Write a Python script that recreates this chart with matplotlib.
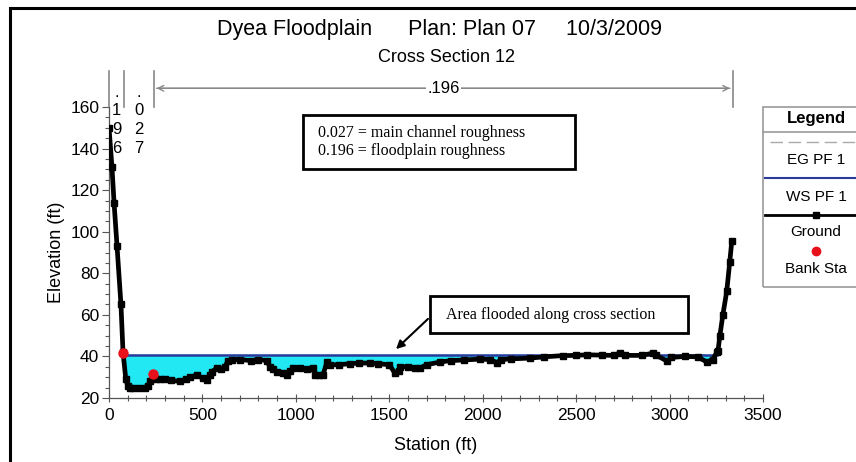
import matplotlib.pyplot as plt
from matplotlib.lines import Line2D
from matplotlib.patches import Rectangle, FancyArrowPatch
from matplotlib.ticker import MultipleLocator

plt.rcParams["font.family"] = ["Liberation Sans", "DejaVu Sans"]

# Ground profile, station (ft) / elevation (ft)
station = [0, 16, 27, 43, 64, 75, 90, 100, 112, 130, 160, 190, 209, 219, 237,
           250, 273, 300, 330, 380, 410, 433, 470, 503, 524, 540, 550, 577,
           600, 620, 637, 660, 700, 760, 800, 845, 861, 880, 898, 930, 952,
           970, 984, 1020, 1060, 1091, 1102, 1125, 1145, 1166, 1182, 1230,
           1289, 1340, 1396, 1440, 1500, 1530, 1550, 1557, 1600, 1640, 1664,
           1700, 1771, 1830, 1900, 1985, 2040, 2076, 2100, 2150, 2253, 2330,
           2429, 2500, 2560, 2640, 2700, 2734, 2760, 2850, 2911, 2930, 2986,
           3010, 3080, 3150, 3200, 3230, 3253, 3259, 3269, 3285, 3306, 3322,
           3333]
ground = [150, 131, 114, 93, 65, 42, 29, 26, 25, 25, 25, 25, 26, 28, 30.5,
          29, 29, 29, 28.5, 28, 29, 30, 31, 29.5, 28.5, 31, 32.5, 34.5,
          34, 35, 38, 38.5, 38.5, 38, 38.5, 38, 35, 34, 32.5, 32, 31,
          33, 34.5, 34.5, 34, 34.5, 31, 31, 31, 37.3, 36, 36,
          36.5, 36.8, 36.8, 36.5, 36, 32, 33, 35, 35, 34.5, 34.4,
          36, 37.3, 38, 38.3, 38.7, 38.5, 37, 38.5, 38.8, 39.2, 39.8,
          40.4, 40.5, 40.8, 40.6, 40.5, 41.6, 40.5, 40.5, 41.6, 40.5, 37.8,
          39.5, 40, 39.8, 37.3, 38.5, 42, 42.6, 49.8, 59.9, 71.4, 85.4,
          95.5]

# Water surface, bank stations and Manning's n breaks
ws_elev = 40.8
ws_range = [75, 3256]
bank_sta = [75, 237]
bank_elev = [41.8, 31.5]
n_breaks = [0, 80, 240, 3338]
n_values = [".196", ".027", ".196"]

W, H = 856, 462


def fx(px):
    return px / W


def fy(py):
    return 1 - py / H


fig = plt.figure(figsize=(W / 100, H / 100), dpi=100)
ax = fig.add_axes([fx(109), fy(398), fx(763 - 109), (398 - 107) / H])

# flooded area between ground and water surface
ws_x = [s for s in station if ws_range[0] <= s <= ws_range[1]]
ws_g = [g for s, g in zip(station, ground) if ws_range[0] <= s <= ws_range[1]]
ax.fill_between(ws_x, ws_g, ws_elev, where=[g < ws_elev for g in ws_g],
                interpolate=True, color="#22e8f4", lw=0, zorder=1)
ax.plot(ws_range, [ws_elev, ws_elev], color="#2a3a9c", lw=1.8, zorder=2)
ax.plot(station, ground, color="black", lw=3.4, marker="s", ms=4.6,
        zorder=3)
ax.plot(bank_sta, bank_elev, "o", color="#e8101a", ms=6.5, zorder=4)

ax.set_xlim(0, 3500)
ax.set_ylim(20, 160)
ax.xaxis.set_major_locator(MultipleLocator(500))
ax.xaxis.set_minor_locator(MultipleLocator(100))
ax.yaxis.set_major_locator(MultipleLocator(20))
ax.yaxis.set_minor_locator(MultipleLocator(5))
ax.tick_params(labelsize=12.5, length=5, width=0.8, color="#555555",
               pad=2)
ax.tick_params(which="minor", length=3, width=0.8, color="#555555")
ax.tick_params(axis="x", direction="inout", length=6, pad=4)
ax.tick_params(axis="x", which="minor", direction="inout", length=5)
for side in ("top", "right"):
    ax.spines[side].set_visible(False)
for side in ("left", "bottom"):
    ax.spines[side].set_color("#555555")
    ax.spines[side].set_linewidth(0.9)
ax.set_xlabel("Station (ft)", fontsize=13, labelpad=10)
ax.set_ylabel("Elevation (ft)", fontsize=13, labelpad=4)

# Manning's n break lines and labels above the plot
for s in n_breaks:
    ax.plot([s, s], [160, 177.5], color="#888888", lw=1.2, clip_on=False)
for i, n in enumerate(n_values[:2]):
    mid = (n_breaks[i] + n_breaks[i + 1]) / 2
    ax.text(mid, 20 + (398 - 120) / 2.08, "\n".join(n), fontsize=12,
            ha="center", va="center", linespacing=1.3)
arrow = FancyArrowPatch((n_breaks[2], 169), (n_breaks[3], 169),
                        arrowstyle="->", mutation_scale=10, color="#888888",
                        lw=1.0, clip_on=False)
ax.add_patch(arrow)
arrow = FancyArrowPatch((n_breaks[3], 169), (n_breaks[2], 169),
                        arrowstyle="->", mutation_scale=10, color="#888888",
                        lw=1.0, clip_on=False)
ax.add_patch(arrow)
ax.text((n_breaks[2] + n_breaks[3]) / 2, 169, n_values[2], fontsize=12,
        ha="center", va="center", clip_on=False,
        bbox=dict(facecolor="white", edgecolor="none", pad=1))

# titles
fig.text(fx(440), fy(30), "Dyea Floodplain      Plan: Plan 07     10/3/2009",
         fontsize=15.5, ha="center", va="center")
fig.text(fx(446), fy(57), "Cross Section 12", fontsize=13, ha="center",
         va="center")

# outer frame
fig.add_artist(Rectangle((fx(10), fy(500)), fx(900), (500 - 8) / H,
                         transform=fig.transFigure, fill=False,
                         edgecolor="black", lw=2.2))

# roughness note
fig.add_artist(Rectangle((fx(303), fy(169)), fx(575 - 303), (169 - 115) / H,
                         transform=fig.transFigure, fill=False,
                         edgecolor="black", lw=2))
fig.text(fx(318), fy(142), "0.027 = main channel roughness\n"
         "0.196 = floodplain roughness", fontsize=11.5,
         family="Liberation Serif", ha="left", va="center", linespacing=1.2)

# flooded area note
fig.add_artist(Rectangle((fx(430), fy(333)), fx(688 - 430), (333 - 296) / H,
                         transform=fig.transFigure, fill=False,
                         edgecolor="black", lw=2))
fig.text(fx(551), fy(315), "Area flooded along cross section", fontsize=11.5,
         family="Liberation Serif", ha="center", va="center")
fig.add_artist(FancyArrowPatch((fx(430), fy(317)), (fx(394), fy(351)),
                               transform=fig.transFigure, arrowstyle="-|>",
                               mutation_scale=12, color="black", lw=1.5))

# legend panel
fig.add_artist(Rectangle((fx(763), fy(287)), fx(120), (287 - 107) / H,
                         transform=fig.transFigure, fill=False,
                         edgecolor="#999999", lw=1.2))
fig.add_artist(Line2D([fx(763), fx(870)], [fy(132), fy(132)],
                      transform=fig.transFigure, color="#999999", lw=1.2))
cx = fx(816)
fig.text(cx, fy(119), "Legend", fontsize=12, weight="bold", ha="center",
         va="center")
fig.add_artist(Line2D([fx(770), fx(860)], [fy(142), fy(142)],
                      transform=fig.transFigure, color="#aaaaaa", lw=1.0,
                      dashes=(9, 4)))
fig.text(cx, fy(160), "EG PF 1", fontsize=11, ha="center", va="center")
fig.add_artist(Line2D([fx(765), fx(860)], [fy(178), fy(178)],
                      transform=fig.transFigure, color="#2a3a9c", lw=1.5))
fig.text(cx, fy(197), "WS PF 1", fontsize=11, ha="center", va="center")
fig.add_artist(Line2D([fx(765), fx(860)], [fy(215), fy(215)],
                      transform=fig.transFigure, color="black", lw=2))
fig.add_artist(Line2D([cx], [fy(215)], transform=fig.transFigure,
                      color="black", marker="s", ms=5, lw=0))
fig.text(cx, fy(232), "Ground", fontsize=11, ha="center", va="center")
fig.add_artist(Line2D([cx], [fy(251)], transform=fig.transFigure,
                      color="#e8101a", marker="o", ms=6, lw=0))
fig.text(cx, fy(269), "Bank Sta", fontsize=11, ha="center", va="center")

fig.savefig("out.png", dpi=100)
